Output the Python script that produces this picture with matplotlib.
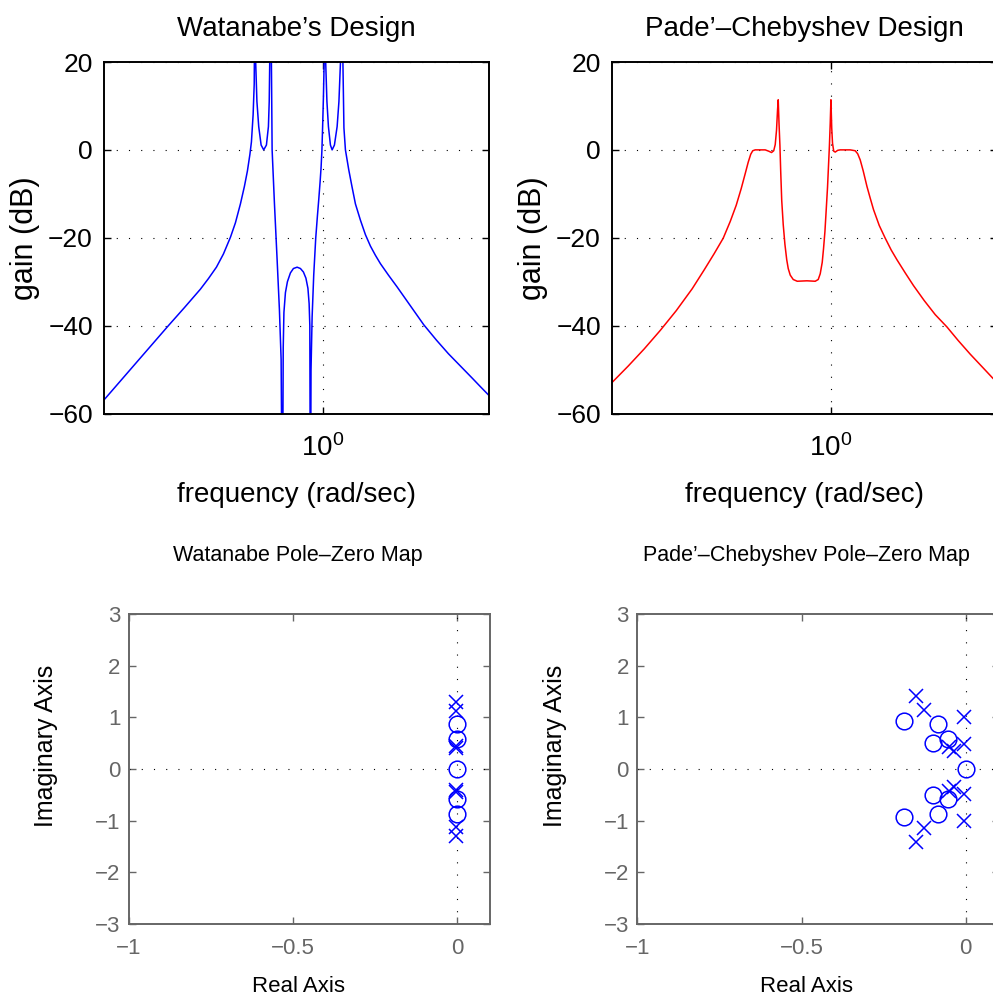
import matplotlib
matplotlib.use('Agg')
import matplotlib.pyplot as plt
from matplotlib.ticker import NullLocator

plt.rcParams['font.family'] = ['Liberation Sans', 'DejaVu Sans']
plt.rcParams['mathtext.fontset'] = 'custom'
plt.rcParams['mathtext.rm'] = 'Liberation Sans'
plt.rcParams['mathtext.it'] = 'Liberation Sans:italic'

# Watanabe's design: gain vs frequency (rad/sec, dB)
wat_freq = [0.27067, 0.29785, 0.32775, 0.36067, 0.39690, 0.43676, 0.48063, 0.50417, 0.52888, 0.55149,
            0.57507, 0.59253, 0.61051, 0.62529, 0.63661, 0.64620, 0.65203, 0.65869, 0.66304, 0.66582,
            0.66902, 0.67383, 0.68113, 0.69098, 0.70181, 0.71323, 0.72182, 0.72528, 0.72745, 0.73181,
            0.73489, 0.73797, 0.74819, 0.76037, 0.77090, 0.77878, 0.78486, 0.78862, 0.79194, 0.79907,
            0.80869, 0.82333, 0.83825, 0.85701, 0.87409, 0.88991, 0.90332, 0.91419, 0.92078, 0.92464,
            0.92797, 0.93130, 0.93745, 0.94646, 0.95785, 0.96764, 0.97519, 0.98339, 0.98929, 0.99404,
            0.99821, 1.00299, 1.00720, 1.01203, 1.01689, 1.02421, 1.03345, 1.04588, 1.05657, 1.07120,
            1.08864, 1.10043, 1.11034, 1.11901, 1.12707, 1.13383, 1.14405, 1.16686, 1.18940, 1.21458,
            1.25145, 1.28943, 1.32858, 1.36891, 1.41046, 1.47959, 1.55863, 1.68769, 1.82744, 1.97161,
            2.11832, 2.27601, 2.44534, 2.56515, 2.70701]
wat_gain = [-56.8, -52.6, -48.4, -44.2, -40.0, -35.9, -31.7, -29.3, -26.7, -23.7,
            -19.9, -16.6, -12.3, -8.3, -4.8, -1.0, 1.8, 8.0, 15.0, 40.0,
            19.7, 11.0, 5.3, 1.1, 0.0, 1.1, 5.3, 11.0, 19.7, 40.0,
            19.7, 0.0, -12.1, -25.0, -36.4, -47.7, -90.0, -45.0, -37.0, -32.5,
            -30.0, -28.0, -27.0, -26.7, -27.0, -27.8, -29.2, -31.5, -35.0, -40.0,
            -90.0, -50.0, -38.0, -28.5, -20.1, -15.0, -11.4, -7.2, -3.8, 0.0,
            5.3, 12.0, 19.7, 40.0, 19.7, 11.0, 5.3, 1.1, 0.0, 1.1,
            5.3, 11.0, 19.7, 40.0, 19.7, 5.0, 0.0, -4.5, -8.3, -12.3,
            -16.0, -19.3, -21.9, -24.0, -25.9, -28.5, -31.2, -35.5, -39.8, -43.3,
            -46.4, -49.2, -52.0, -53.9, -56.0]

# Pade'-Chebyshev design
pc_freq = [0.27034, 0.29749, 0.32737, 0.36025, 0.39643, 0.43624, 0.46870, 0.49759, 0.52511, 0.54755,
           0.56756, 0.58479, 0.59895, 0.60979, 0.61898, 0.62644, 0.63587, 0.65517, 0.67506, 0.68934,
           0.70099, 0.71027, 0.71667, 0.72226, 0.72659, 0.72964, 0.73315, 0.73710, 0.74063, 0.74508,
           0.75180, 0.75947, 0.76770, 0.77462, 0.78394, 0.79813, 0.81745, 0.86628, 0.91038, 0.92686,
           0.93801, 0.94930, 0.95670, 0.96475, 0.97228, 0.97987, 0.98575, 0.99107, 0.99582, 1.00000,
           1.00479, 1.00962, 1.01689, 1.02605, 1.04151, 1.05720, 1.12236, 1.15643, 1.17385, 1.19153,
           1.21311, 1.24026, 1.26497, 1.29019, 1.33494, 1.38372, 1.43427, 1.48401, 1.55953, 1.63890,
           1.74721, 1.86604, 2.00132, 2.14122, 2.30057, 2.47177, 2.62883, 2.70374]
pc_gain = [-52.9, -49.2, -45.3, -41.1, -36.6, -31.6, -27.3, -23.6, -20.1, -16.3,
           -12.6, -8.8, -5.4, -2.8, -1.0, -0.2, 0.0, 0.0, 0.0, -0.3,
           -0.6, -0.2, 1.2, 4.5, 9.0, 11.4, 6.0, 1.0, -5.0, -11.5,
           -17.0, -21.5, -25.0, -27.0, -28.5, -29.5, -29.9, -29.8, -29.9, -29.5,
           -28.2, -25.6, -22.5, -18.6, -13.6, -8.5, -3.5, 1.0, 6.0, 11.4,
           5.0, 1.5, -0.3, -0.5, -0.1, 0.0, 0.0, -0.2, -0.9, -2.3,
           -4.8, -8.3, -11.0, -13.6, -17.2, -20.1, -22.8, -25.0, -28.0, -30.9,
           -34.3, -37.5, -40.3, -43.4, -46.5, -49.4, -51.9, -53.0]

# pole / zero locations
wat_pole_re = [-0.002, -0.002, -0.002, -0.002, -0.002, -0.002, -0.002, -0.002]
wat_pole_im = [1.29, 1.13, 0.45, 0.41, -0.41, -0.45, -1.13, -1.29]
wat_zero_re = [0.0, 0.0, 0.0, 0.0, 0.0]
wat_zero_im = [0.87, 0.58, 0.0, -0.58, -0.87]

pc_pole_re = [-0.152, -0.128, -0.006, -0.006, -0.050, -0.035,
              -0.152, -0.128, -0.006, -0.006, -0.050, -0.035]
pc_pole_im = [1.42, 1.15, 1.00, 0.48, 0.42, 0.35,
              -1.42, -1.15, -1.00, -0.48, -0.42, -0.35]
pc_zero_re = [-0.189, -0.083, -0.101, -0.055, 0.0, -0.101, -0.055, -0.083, -0.189]
pc_zero_im = [0.935, 0.865, 0.50, 0.58, 0.0, -0.50, -0.58, -0.865, -0.935]

W, H = 993.0, 1000.0
GRID = dict(color='k', linestyle=(0, (1, 10)), linewidth=0.8)


def gain_plot(ax, freq, gain, color, title):
    ax.semilogx(freq, gain, color=color, linewidth=1.1)
    ax.set_xlim(0.27, 2.7)
    ax.set_ylim(-60, 20)
    ax.set_yticks([-60, -40, -20, 0, 20])
    ax.set_xticks([1])
    ax.set_xticklabels([r'$\mathregular{10^0}$'])
    ax.xaxis.set_minor_locator(NullLocator())
    ax.grid(True, **GRID)
    ax.tick_params(direction='in', top=True, right=True, length=5, width=1,
                   labelsize=19)
    ax.tick_params(axis='x', pad=15, labelsize=20)
    ax.tick_params(axis='y', pad=8)
    for s in ax.spines.values():
        s.set_linewidth(1.4)
    ax.set_title(title, fontsize=20, pad=19)
    ax.set_xlabel('frequency (rad/sec)', fontsize=20, labelpad=14)
    ax.set_ylabel('gain (dB)', fontsize=22, labelpad=6)


def pz_plot(ax, pre, pim, zre, zim, title):
    grey = '#666666'
    ax.axhline(0, **GRID)
    ax.axvline(0, **GRID)
    ax.plot(pre, pim, 'x', color='b', markersize=10, markeredgewidth=1.1)
    ax.plot(zre, zim, 'o', color='b', markersize=12, markerfacecolor='none',
            markeredgewidth=1.1)
    ax.set_xlim(-1, 0.1)
    ax.set_ylim(-3, 3)
    ax.set_xticks([-1, -0.5, 0])
    ax.set_xticklabels(['\u22121', '\u22120.5', '0'])
    ax.set_yticks([-3, -2, -1, 0, 1, 2, 3])
    ax.tick_params(direction='in', top=True, right=True, length=5, width=1,
                   color=grey, labelcolor=grey, labelsize=16)
    ax.tick_params(axis='x', pad=10)
    ax.tick_params(axis='y', pad=6)
    for s in ax.spines.values():
        s.set_linewidth(1.4)
        s.set_color(grey)
    ax.text(0.469, 1.172, title, transform=ax.transAxes, fontsize=15.5,
            ha='center', va='baseline')
    ax.set_xlabel('Real Axis', fontsize=16)
    ax.xaxis.set_label_coords(0.469, -0.168)
    ax.set_ylabel('Imaginary Axis', fontsize=18)
    ax.yaxis.set_label_coords(-0.195, 0.574)


fig = plt.figure(figsize=(9.93, 10), dpi=100)

ax1 = fig.add_axes([104 / W, 1 - 413.5 / H, 385 / W, 351.5 / H])
ax2 = fig.add_axes([612 / W, 1 - 413.5 / H, 385 / W, 351.5 / H])
ax3 = fig.add_axes([128.7 / W, 1 - 924 / H, 361.3 / W, 310 / H])
ax4 = fig.add_axes([637.3 / W, 1 - 924 / H, 361.3 / W, 310 / H])

gain_plot(ax1, wat_freq, wat_gain, 'b', "Watanabe\u2019s Design")
gain_plot(ax2, pc_freq, pc_gain, 'r', "Pade\u2019\u2013Chebyshev Design")
pz_plot(ax3, wat_pole_re, wat_pole_im, wat_zero_re, wat_zero_im,
        'Watanabe Pole\u2013Zero Map')
pz_plot(ax4, pc_pole_re, pc_pole_im, pc_zero_re, pc_zero_im,
        'Pade\u2019\u2013Chebyshev Pole\u2013Zero Map')

fig.savefig('out.png', dpi=100)
